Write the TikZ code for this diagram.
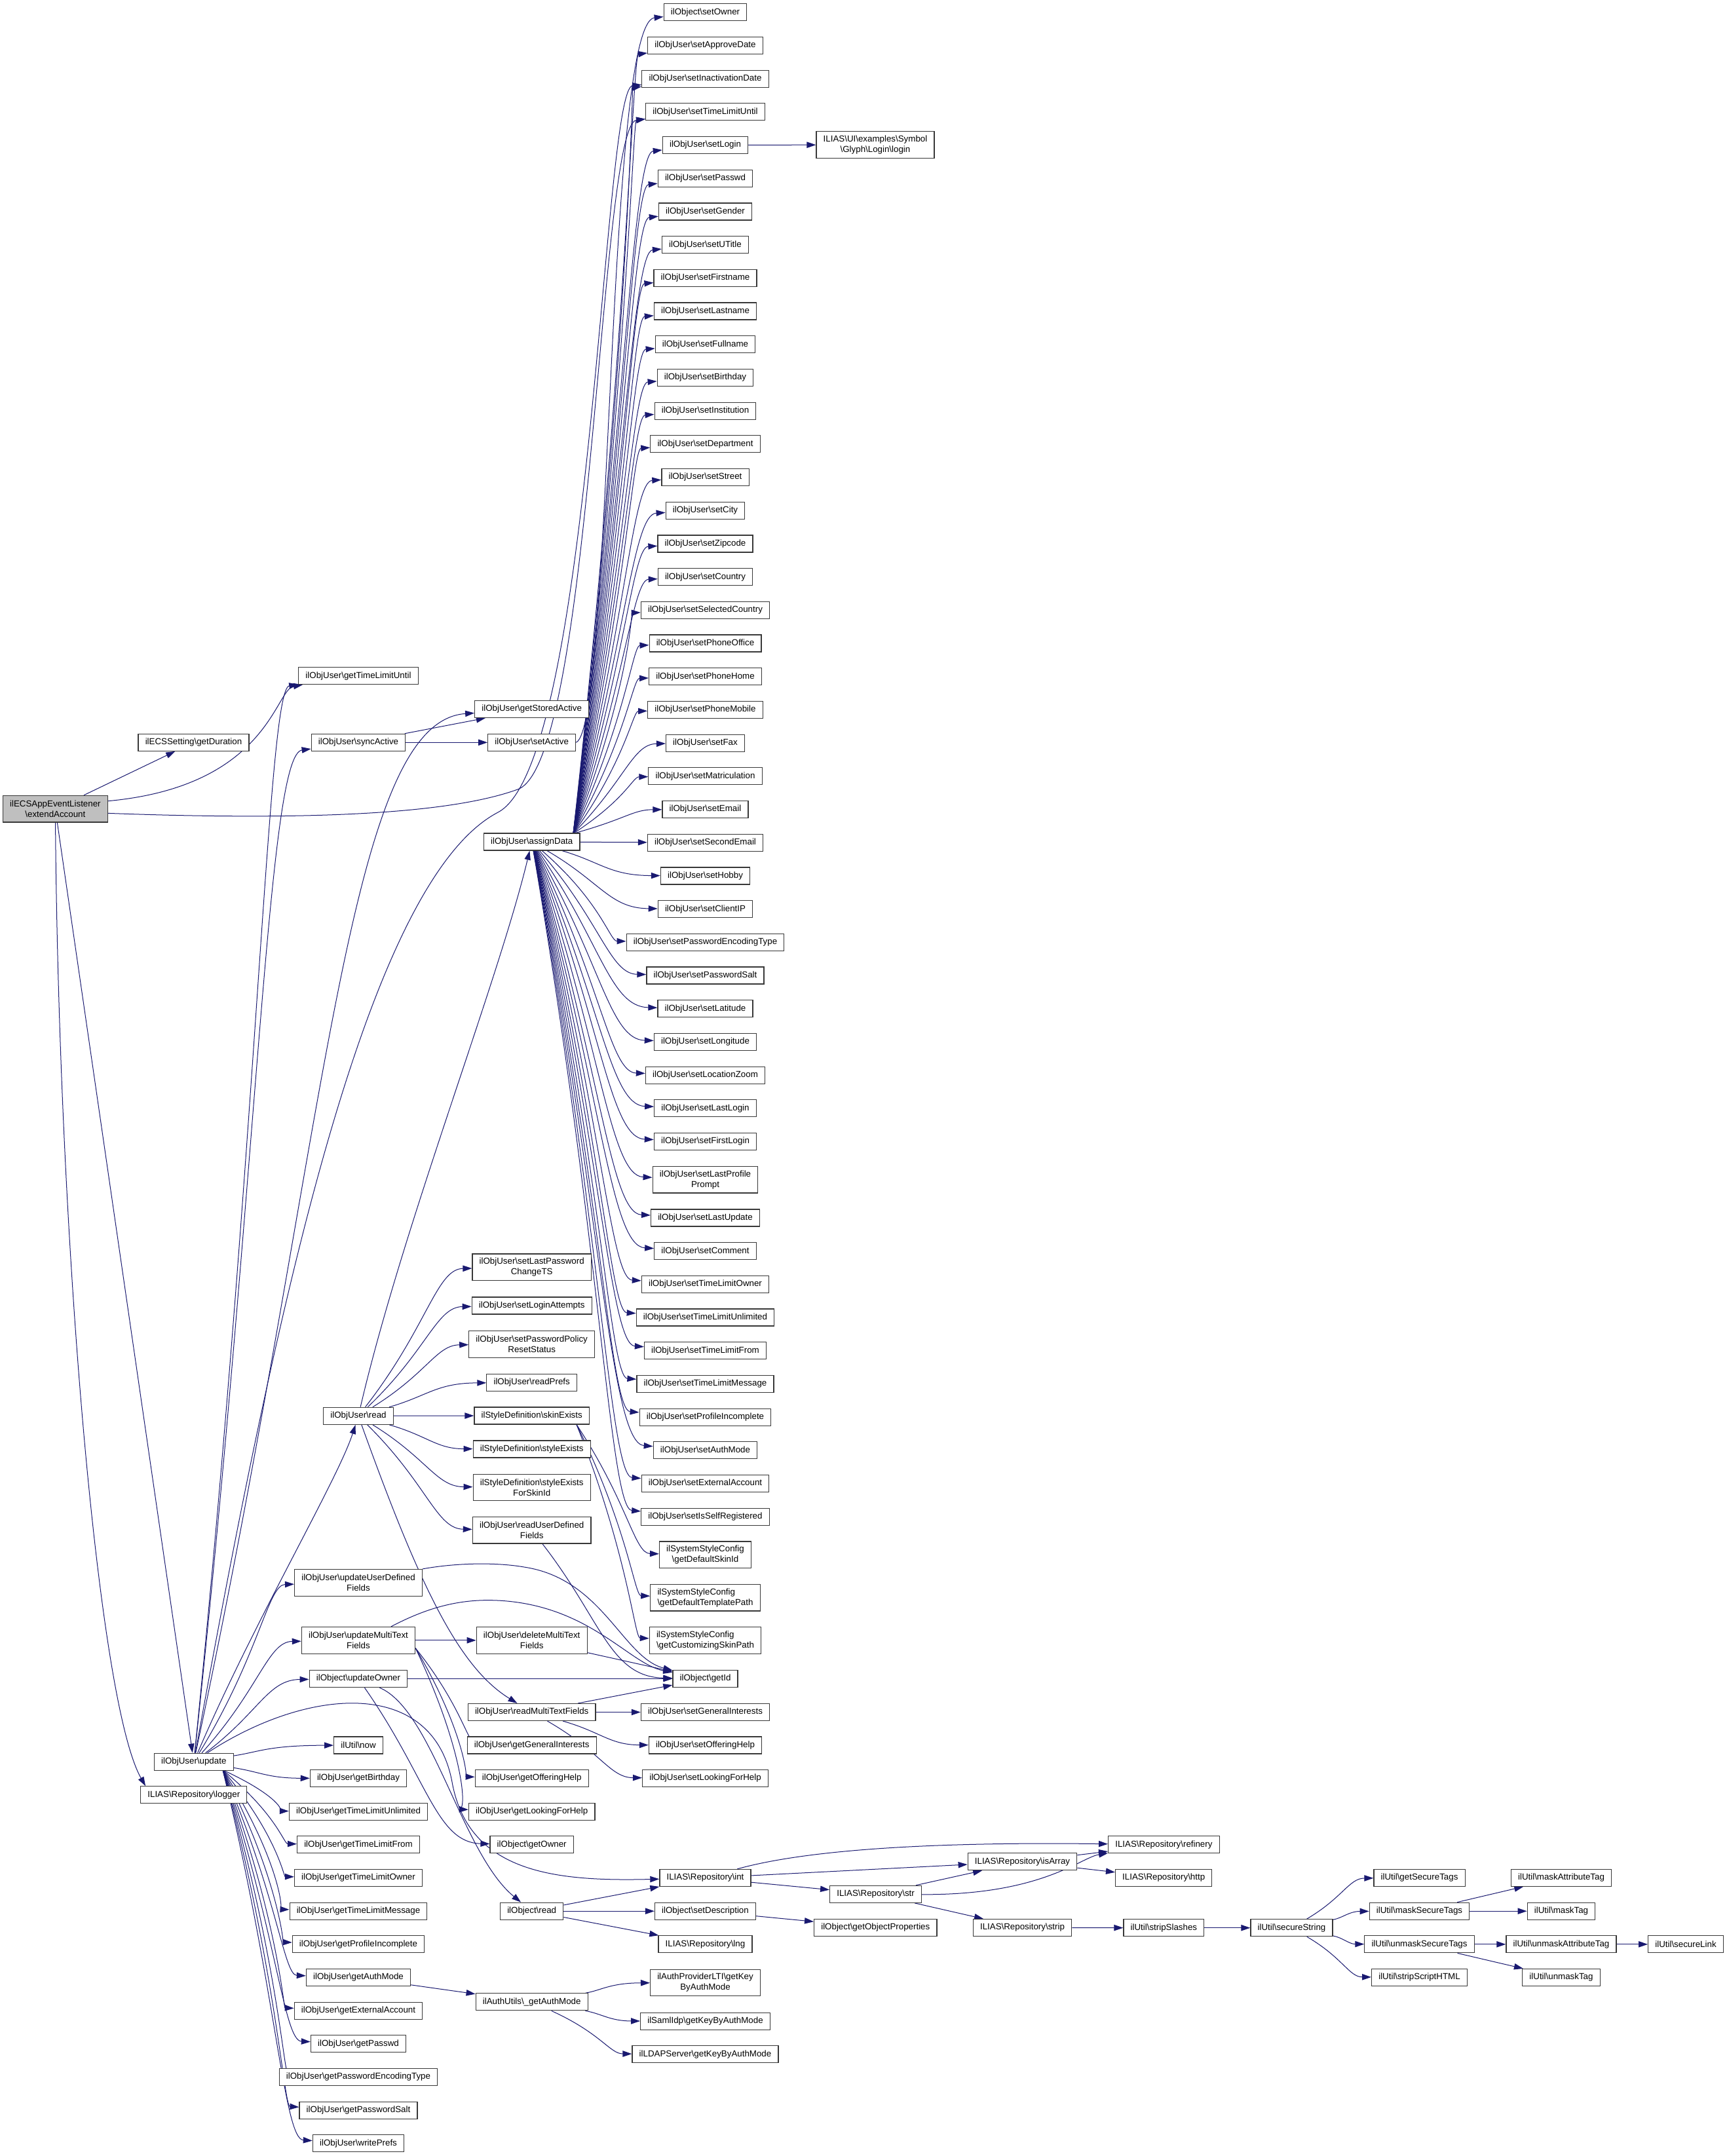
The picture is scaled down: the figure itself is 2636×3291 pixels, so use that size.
\documentclass[tikz,border=0pt]{standalone}
\usepackage{fontspec}
\setmainfont{Liberation Sans}
\usetikzlibrary{arrows.meta,calc}
\definecolor{edgec}{HTML}{191970}
\definecolor{rootfill}{HTML}{BFBFBF}
\newcommand\bsl{\textbackslash}
\newcommand\ed[3][]{\draw[e,#1] let \p1=(#2), \p2=(#3) in (#2) .. controls ({\x1+0.4*(\x2-\x1)},{\y1+0.6*(\y2-\y1)}) and ({\x1+0.45*(\x2-\x1)},{\y2-0.012*(\y2-\y1)}) .. (#3);}
\pgfdeclarelayer{bg}
\pgfsetlayers{bg,main}
\begin{document}
\begin{tikzpicture}[x=0.75pt,y=-0.75pt,
  box/.style={draw=black!78, fill=white, line width=0.9pt, inner xsep=8pt, inner ysep=0pt, minimum height=19.5pt, font=\fontsize{10pt}{12pt}\selectfont, align=center},
  two/.style={minimum height=30.5pt},
  e/.style={draw=edgec, line width=0.75pt, -{Triangle[length=10.5pt,width=7pt]}}]
\useasboundingbox (0,0) rectangle (2636,3291);

% rank 0
\node[box,two,fill=rootfill] (extAcc) at (84.4,1234.7) {ilECSAppEventListener\\\bsl extendAccount};
% rank 1
\node[box] (getDuration) at (295.5,1133.3) {ilECSSetting\bsl getDuration};
\node[box] (update) at (295.8,2689.2) {ilObjUser\bsl update};
\node[box] (logger) at (295.8,2739.8) {ILIAS\bsl Repository\bsl logger};
% rank 2
\foreach \nm/\yy in {getTimeLimitUntil/1031.7, syncActive/1133.3, getBirthday/2714.5, getTimeLimitUnlimited/2765.2, getTimeLimitFrom/2815.8, getTimeLimitOwner/2866.5, getTimeLimitMessage/2917.2, getProfileIncomplete/2967.8, getAuthMode/3018.5, getExternalAccount/3069.2, getPasswd/3119.8, getPasswordEncodingType/3170.5, getPasswordSalt/3221.2, writePrefs/3271.8}
  \node[box] (\nm) at (547,\yy) {ilObjUser\bsl\nm};
\node[box] (uread) at (547,2161.3) {ilObjUser\bsl read};
\node[box,two] (uudf) at (547,2415.8) {ilObjUser\bsl updateUserDefined\\Fields};
\node[box,two] (umtf) at (547,2503.8) {ilObjUser\bsl updateMultiText\\Fields};
\node[box] (updateOwner) at (547,2562.5) {ilObject\bsl updateOwner};
\node[box] (now) at (547,2664) {ilUtil\bsl now};
% rank 3
\foreach \nm/\yy in {getStoredActive/1082.5, setActive/1133.3, assignData/1285, setLoginAttempts/1993, readPrefs/2110.5, readMultiTextFields/2613.5, getGeneralInterests/2664, getOfferingHelp/2714.5, getLookingForHelp/2765.2}
  \node[box] (\nm) at (811.7,\yy) {ilObjUser\bsl\nm};
\node[box,two] (setLPCTS) at (811.7,1934.3) {ilObjUser\bsl setLastPassword\\ChangeTS};
\node[box,two] (setPPRS) at (811.7,2051.8) {ilObjUser\bsl setPasswordPolicy\\ResetStatus};
\node[box] (skinExists) at (811.7,2161) {ilStyleDefinition\bsl skinExists};
\node[box] (styleExists) at (811.7,2212) {ilStyleDefinition\bsl styleExists};
\node[box,two] (styleExistsFSI) at (811.7,2270.5) {ilStyleDefinition\bsl styleExists\\ForSkinId};
\node[box,two] (rudf) at (811.7,2335.7) {ilObjUser\bsl readUserDefined\\Fields};
\node[box,two] (dmtf) at (811.7,2503.8) {ilObjUser\bsl deleteMultiText\\Fields};
\node[box] (getOwner) at (811.7,2815.8) {ilObject\bsl getOwner};
\node[box] (oread) at (811.7,2917.2) {ilObject\bsl read};
\node[box] (authUtils) at (811.7,3055.8) {ilAuthUtils\bsl\_getAuthMode};
% rank 4
\node[box] (setOwner) at (1076.5,18.7) {ilObject\bsl setOwner};
\foreach \nm/\yy in {setApproveDate/69.4, setInactivationDate/120.1, setTimeLimitUntil/170.8, setLogin/221.5, setPasswd/272.2, setGender/322.9, setUTitle/373.6, setFirstname/424.3, setLastname/475.0, setFullname/525.7, setBirthday/576.4, setInstitution/627.1, setDepartment/677.8, setStreet/728.5, setCity/779.2, setZipcode/829.9, setCountry/880.6, setSelectedCountry/931.3, setPhoneOffice/982.0, setPhoneHome/1032.7, setPhoneMobile/1083.4, setFax/1134.1, setMatriculation/1184.8, setEmail/1235.5, setSecondEmail/1286.2, setHobby/1336.9, setClientIP/1387.6, setPasswordEncodingType/1438.3, setPasswordSalt/1489.0, setLatitude/1539.7, setLongitude/1590.4, setLocationZoom/1641.1, setLastLogin/1691.8, setFirstLogin/1742.5, setLastUpdate/1858.9, setComment/1909.6, setTimeLimitOwner/1960.3, setTimeLimitUnlimited/2011.0, setTimeLimitFrom/2061.7, setTimeLimitMessage/2112.4, setProfileIncomplete/2163.1, setAuthMode/2213.8, setExternalAccount/2264.5, setIsSelfRegistered/2315.2, setGeneralInterests/2613.5, setOfferingHelp/2664, setLookingForHelp/2714.5}
  \node[box] (\nm) at (1076.5,\yy) {ilObjUser\bsl\nm};
\node[box,two] (setLastProfilePrompt) at (1076.5,1800.7) {ilObjUser\bsl setLastProfile\\Prompt};
\node[box,two] (defSkin) at (1076.5,2373.4) {ilSystemStyleConfig\\\bsl getDefaultSkinId};
\node[box,two,align=left] (defTpl) at (1076.5,2438.7) {ilSystemStyleConfig\\\bsl getDefaultTemplatePath};
\node[box,two,align=left] (custSkin) at (1076.5,2504) {ilSystemStyleConfig\\\bsl getCustomizingSkinPath};
\node[box] (getId) at (1076.5,2562.5) {ilObject\bsl getId};
\node[box] (rint) at (1076.5,2866.5) {ILIAS\bsl Repository\bsl int};
\node[box] (setDescription) at (1076.5,2917.2) {ilObject\bsl setDescription};
\node[box] (rlng) at (1076.5,2967.8) {ILIAS\bsl Repository\bsl lng};
\node[box,two] (lti) at (1076.5,3026.5) {ilAuthProviderLTI\bsl getKey\\ByAuthMode};
\node[box] (saml) at (1076.5,3085.2) {ilSamlIdp\bsl getKeyByAuthMode};
\node[box] (ldap) at (1076.5,3135.8) {ilLDAPServer\bsl getKeyByAuthMode};
% rank 5
\node[box,two] (login) at (1336,221) {ILIAS\bsl UI\bsl examples\bsl Symbol\\\bsl Glyph\bsl Login\bsl login};
\node[box] (rstr) at (1336.6,2891.3) {ILIAS\bsl Repository\bsl str};
\node[box] (getObjProps) at (1336.3,2942.3) {ilObject\bsl getObjectProperties};
% rank 6
\node[box] (isArray) at (1560.5,2841.7) {ILIAS\bsl Repository\bsl isArray};
\node[box] (rstrip) at (1560.5,2942.5) {ILIAS\bsl Repository\bsl strip};
% rank 7
\node[box] (refinery) at (1776.4,2815.8) {ILIAS\bsl Repository\bsl refinery};
\node[box] (http) at (1776.2,2866.2) {ILIAS\bsl Repository\bsl http};
\node[box] (stripSlashes) at (1776.4,2942.7) {ilUtil\bsl stripSlashes};
% rank 8
\node[box] (secureString) at (1971.5,2942.7) {ilUtil\bsl secureString};
% rank 9
\foreach \nm/\yy in {getSecureTags/2866.2, maskSecureTags/2917.2, unmaskSecureTags/2967.8, stripScriptHTML/3018.5}
  \node[box] (\nm) at (2166.5,\yy) {ilUtil\bsl\nm};
% rank 10
\foreach \nm/\yy in {maskAttributeTag/2866.2, maskTag/2917.2, unmaskAttributeTag/2967.8, unmaskTag/3018.5}
  \node[box] (\nm) at (2383,\yy) {ilUtil\bsl\nm};
% rank 11
\node[box] (secureLink) at (2573,2967.8) {ilUtil\bsl secureLink};

\coordinate (adtop) at (875,1272.3);
\coordinate (updbr) at (340,2701.7);
\coordinate (skbr) at ($(skinExists.south east)+(-20,0)$);
\coordinate (umtfr) at ($(umtf.east)+(0,12)$);

\begin{pgfonlayer}{bg}
\fill[white] (0,0) rectangle (2636,3291);
% extendAccount
\draw[e] (extAcc) -- (getDuration);
\draw[e] ([yshift=9pt]extAcc.east) .. controls (410,1200) and (420,1052) .. (getTimeLimitUntil);
\draw[e] ([yshift=-5pt]extAcc.east) .. controls (450,1252) and (680,1245) .. (790,1205) .. controls (905,1165) and (915,190) .. (setTimeLimitUntil);
\draw[e] (extAcc) -- (update);
\draw[e] (extAcc) .. controls (90,1900) and (150,2600) .. ([xshift=6pt]logger.north west);
% update
\ed{update}{getTimeLimitUntil}
\ed{update}{getStoredActive}
\ed{update}{syncActive}
\draw[e] (update) .. controls (420,2000) and (560,1345) .. (760,1240) .. controls (905,1165) and (920,135) .. (setInactivationDate);
\draw[e] (update) .. controls (390,2470) and (515,2260) .. (uread);
\ed{update}{uudf}
\ed{update}{umtf}
\ed{update}{updateOwner}
\draw[e] (update) .. controls (470,2575) and (660,2560) .. (690,2720) .. controls (715,2860) and (850,2872) .. (rint);
\ed{update}{now}
\ed{update}{getBirthday}
\foreach \t in {getTimeLimitUnlimited,getTimeLimitFrom,getTimeLimitOwner,getTimeLimitMessage,getProfileIncomplete,getAuthMode,getExternalAccount,getPasswd,getPasswordEncodingType,getPasswordSalt,writePrefs}{\ed{updbr}{\t}}
% syncActive / setActive
\draw[e] (syncActive) -- (getStoredActive);
\draw[e] (syncActive) -- (setActive);
\draw[e] (setActive.east) .. controls (935,1110) and (925,35) .. (setOwner);
% assignData
\foreach \t in {setApproveDate,setInactivationDate,setTimeLimitUntil,setLogin,setPasswd,setGender,setUTitle,setFirstname,setLastname,setFullname,setBirthday,setInstitution,setDepartment,setStreet,setCity,setZipcode,setCountry,setSelectedCountry,setPhoneOffice,setPhoneHome,setPhoneMobile,setFax,setMatriculation,setEmail}{\ed{adtop}{\t}}
\draw[e] (assignData) -- (setSecondEmail);
\foreach \t in {setHobby,setClientIP,setPasswordEncodingType,setPasswordSalt,setLatitude,setLongitude,setLocationZoom,setLastLogin,setFirstLogin,setLastProfilePrompt,setLastUpdate,setComment,setTimeLimitOwner,setTimeLimitUnlimited,setTimeLimitFrom,setTimeLimitMessage,setProfileIncomplete,setAuthMode,setExternalAccount,setIsSelfRegistered}{\ed{assignData}{\t}}
\draw[e] (setLogin) -- (login);
% ilObjUser read
\foreach \t in {setLPCTS,setLoginAttempts,setPPRS,readPrefs,skinExists,styleExists,styleExistsFSI,rudf}{\ed{uread}{\t}}
\draw[e] (uread) .. controls (615,1870) and (760,1500) .. (assignData);
\draw[e] (uread) .. controls (640,2420) and (700,2545) .. (readMultiTextFields);
% skinExists
\foreach \t in {defSkin,defTpl,custSkin}{\ed{skbr}{\t}}
% getId and friends
\ed{rudf}{getId}
\draw[e] (uudf.north east) .. controls (700,2385) and (760,2385) .. (800,2392) .. controls (920,2410) and (950,2530) .. (getId);
\draw[e] ([xshift=-28pt]umtf.north east) .. controls (650,2455) and (700,2440) .. (760,2443) .. controls (900,2450) and (960,2540) .. (getId);
\draw[e] (umtf) -- (dmtf);
\foreach \t in {getGeneralInterests,getOfferingHelp,getLookingForHelp}{\ed{umtfr}{\t}}
\draw[e] (dmtf) -- (getId);
\draw[e] (updateOwner) -- (getId);
\ed{updateOwner}{getOwner}
\draw[e] (updateOwner) .. controls (660,2610) and (705,2830) .. (oread);
\draw[e] (readMultiTextFields) -- (getId);
\draw[e] (readMultiTextFields) -- (setGeneralInterests);
\ed{readMultiTextFields}{setOfferingHelp}
\ed{readMultiTextFields}{setLookingForHelp}
% ilObject read and repository
\draw[e] (oread) -- (rint);
\draw[e] (oread) -- (setDescription);
\draw[e] (oread) -- (rlng);
\draw[e] (setDescription) -- (getObjProps);
\draw[e] (rint) .. controls (1250,2818) and (1480,2812) .. (refinery);
\draw[e] (rint) -- (isArray);
\draw[e] (rint) -- (rstr);
\draw[e] (rstr) -- (isArray);
\draw[e] (rstr) .. controls (1590,2893) and (1650,2835) .. (refinery);
\draw[e] (rstr) -- (rstrip);
\draw[e] (isArray) -- (refinery);
\draw[e] (isArray) -- (http);
\draw[e] (rstrip) -- (stripSlashes);
\draw[e] (stripSlashes) -- (secureString);
\foreach \t in {getSecureTags,maskSecureTags,unmaskSecureTags,stripScriptHTML}{\ed{secureString}{\t}}
\draw[e] (maskSecureTags) -- (maskAttributeTag);
\draw[e] (maskSecureTags) -- (maskTag);
\draw[e] (unmaskSecureTags) -- (unmaskAttributeTag);
\draw[e] (unmaskSecureTags) -- (unmaskTag);
\draw[e] (unmaskAttributeTag) -- (secureLink);
% auth
\draw[e] (getAuthMode) -- (authUtils);
\ed{authUtils}{lti}
\ed{authUtils}{saml}
\ed{authUtils}{ldap}
\end{pgfonlayer}
\end{tikzpicture}
\end{document}
